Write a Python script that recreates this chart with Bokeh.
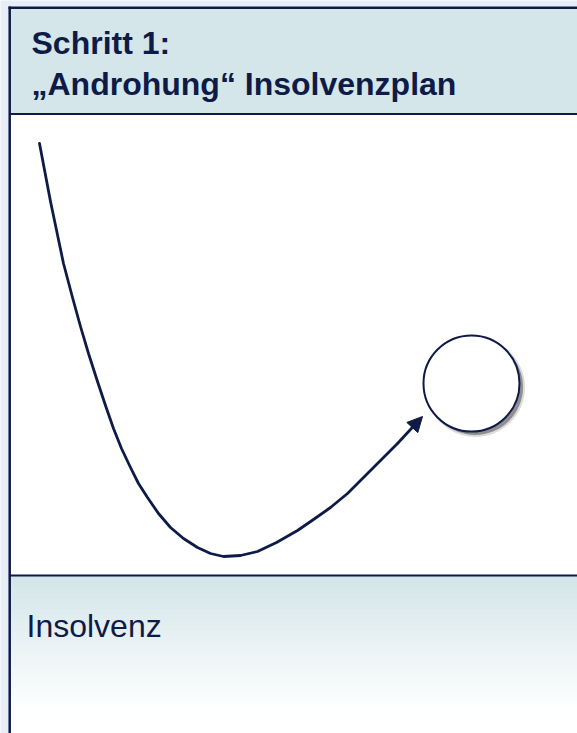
from bokeh.plotting import figure
from bokeh.models import Range1d, Arrow, NormalHead
from bokeh.core.properties import value
from bokeh.embed import file_html
from bokeh.resources import INLINE

# ---- content ----
header_lines = ["Schritt 1:", "\u201eAndrohung\u201c Insolvenzplan"]
footer_label = ["Insolvenz"]

# curve path (image pixel coordinates, y downward)
curve_x = [39, 50, 63, 72, 80, 88, 97, 105, 113, 121, 130, 138, 147, 158, 170, 183, 197, 210, 223,
           240, 257, 276, 297, 313, 330, 347, 363, 380, 397]
curve_y = [143, 201, 263, 297, 326, 353, 381, 405, 428, 448, 467, 483, 497, 513, 527, 538, 547, 553, 556,
           555, 551, 542, 530, 519, 507, 493, 477, 460, 443]
arrow_tip = (422, 416)

circle_center = (471, 383)
circle_r = 48

NAVY = "#0E1B47"
HEAD = "#D4E6EA"
OUTER = "#E8EEF8"

W, H = 577, 733
p = figure(width=W, height=H, output_backend="svg", toolbar_location=None,
           x_range=Range1d(0, W), y_range=Range1d(H, 0),
           min_border=0, outline_line_color=None)
p.axis.visible = False
p.grid.visible = False
p.background_fill_color = OUTER
p.border_fill_color = OUTER

# main box (white)
p.quad(left=[9], right=[600], top=[7], bottom=[740], fill_color="white", line_color=None)
# header band
p.quad(left=[9], right=[600], top=[7], bottom=[113.5], fill_color=HEAD, line_color=None)

# footer gradient band
n = 70
y0, y1 = 575.5, 735
top_rgb = (211, 229, 233)
lefts, rights, tops, bottoms, cols = [], [], [], [], []
for i in range(n):
    a = y0 + (y1 - y0) * i / n
    b = y0 + (y1 - y0) * (i + 1) / n
    t = min(1.0, (i + 0.5) / (n * 0.85))
    c = tuple(int(round(top_rgb[k] + (255 - top_rgb[k]) * t)) for k in range(3))
    lefts.append(9); rights.append(600); tops.append(a); bottoms.append(b + 0.6)
    cols.append("#%02x%02x%02x" % c)
p.quad(left=lefts, right=rights, top=tops, bottom=bottoms, fill_color=cols, line_color=None)

# borders
p.line([9.2, 9.2], [6, 740], line_color=NAVY, line_width=2.5)
p.line([8, 600], [7.2, 7.2], line_color=NAVY, line_width=2.5)
p.line([9, 600], [113.5, 113.5], line_color=NAVY, line_width=2.2)
p.line([9, 600], [575, 575], line_color=NAVY, line_width=2.2)

# texts
p.text(x=[31, 31], y=[42, 83], text=header_lines, text_font=value("Liberation Sans"),
       text_font_style="bold", text_font_size="32px", text_color=NAVY,
       text_baseline="alphabetic", text_align="left")
p.text(x=[26], y=[625], text=footer_label, text_font=value("Liberation Sans"),
       text_font_size="32px", text_color=NAVY, text_baseline="alphabetic", text_align="left")

# circle with shadow
cx, cy = circle_center
p.circle(x=[cx + 4], y=[cy + 4], radius=circle_r + 1.5, fill_color="#9a9a9a", fill_alpha=0.35, line_color=None)
p.circle(x=[cx + 3.5], y=[cy + 3.5], radius=circle_r, fill_color="#7a7a7a", fill_alpha=0.8, line_color=None)
p.circle(x=[cx], y=[cy], radius=circle_r, fill_color="white", line_color=NAVY, line_width=2)

# curve + arrow
p.line(curve_x, curve_y, line_color=NAVY, line_width=2.8, line_join="round", line_cap="round")
p.add_layout(Arrow(end=NormalHead(size=15, fill_color=NAVY, line_color=NAVY, line_width=1),
                   x_start=curve_x[-1], y_start=curve_y[-1], x_end=arrow_tip[0], y_end=arrow_tip[1],
                   line_color=NAVY, line_width=2.8))

open("out.html", "w").write(file_html(p, INLINE))
